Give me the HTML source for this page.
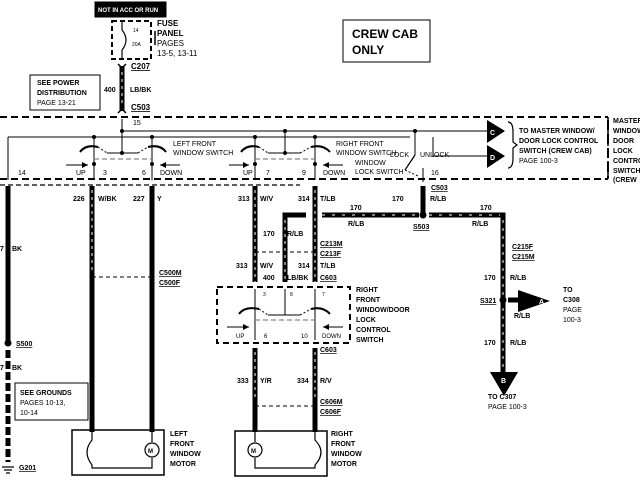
<!DOCTYPE html>
<html><head><style>
html,body{margin:0;padding:0;background:#fff;width:640px;height:480px;overflow:hidden}
svg{display:block}
text{font-family:"Liberation Sans",sans-serif;font-weight:bold;fill:#000}
.s{font-size:7px}
.m{font-size:8px}
.n{font-weight:normal}
.u{text-decoration:underline}
</style></head><body>
<svg width="640" height="480" viewBox="0 0 640 480" xmlns="http://www.w3.org/2000/svg">
<g fill="none" stroke="#000">
<!-- top label -->
<rect x="95" y="2" width="71" height="15" fill="#000"/>
<!-- fuse box -->
<rect x="112" y="21" width="39" height="38" stroke-width="2" stroke-dasharray="5,3"/>
<line x1="122" y1="21" x2="122" y2="30" stroke-width="1.2"/>
<path d="M122 30 Q130 40 122 50" stroke-width="1.2"/>
<line x1="122" y1="50" x2="122" y2="59" stroke-width="1.2"/>
<line x1="155" y1="31" x2="155" y2="45" stroke-width="1.5"/>
<!-- wire 400 -->
<line x1="122" y1="66" x2="122" y2="111" stroke-width="5"/>
<line x1="122" y1="72" x2="122" y2="106" stroke="#fff" stroke-width="1" stroke-dasharray="3,4"/>
<path d="M118 64 L122 68 L126 64 M118 113 L122 109 L126 113" stroke-width="1.5"/>
<rect x="30" y="75" width="70" height="35" stroke-width="1"/>
<!-- dashed lines top/bottom -->
<line x1="0" y1="117" x2="608" y2="117" stroke-width="2" stroke-dasharray="7,4"/>
<line x1="0" y1="179" x2="608" y2="179" stroke-width="2" stroke-dasharray="7,4"/>
<line x1="0" y1="185" x2="300" y2="185" stroke-width="1.2" stroke-dasharray="5,3"/>
<line x1="608" y1="117" x2="608" y2="179" stroke-width="1.5" stroke-dasharray="7,4"/>
<!-- internal lines -->
<line x1="122" y1="119" x2="122" y2="153" stroke-width="1"/>
<line x1="122" y1="131" x2="487" y2="131" stroke-width="1"/>
<line x1="8" y1="137" x2="410" y2="137" stroke-width="1"/>
<line x1="8" y1="137" x2="8" y2="180" stroke-width="1"/>
<path d="M433 137 L433 156 L487 156" stroke-width="1"/>
<!-- left switch -->
<line x1="94" y1="137" x2="94" y2="180" stroke-width="1"/>
<line x1="152" y1="137" x2="152" y2="180" stroke-width="1"/>
<line x1="107" y1="153" x2="138" y2="153" stroke-width="1"/>
<path d="M80 152 Q86 144 98 147" stroke-width="2"/>
<path d="M148 147 Q160 144 166 152" stroke-width="2"/>
<path d="M98 147 L107 153 M138 153 L148 147" stroke-width="1" stroke-dasharray="2,2"/>
<line x1="94" y1="159" x2="152" y2="159" stroke="#888" stroke-width="1.2" stroke-dasharray="5,3"/>
<path d="M66 165 L88 165 M160 165 L180 165" stroke-width="1"/>
<!-- right switch -->
<line x1="255" y1="137" x2="255" y2="180" stroke-width="1"/>
<line x1="315" y1="137" x2="315" y2="180" stroke-width="1"/>
<line x1="285" y1="131" x2="285" y2="153" stroke-width="1"/>
<line x1="268" y1="153" x2="300" y2="153" stroke-width="1"/>
<path d="M241 152 Q247 144 259 147" stroke-width="2"/>
<path d="M311 147 Q323 144 330 152" stroke-width="2"/>
<path d="M259 147 L268 153 M300 153 L311 147" stroke-width="1" stroke-dasharray="2,2"/>
<line x1="255" y1="159" x2="315" y2="159" stroke="#888" stroke-width="1.2" stroke-dasharray="5,3"/>
<path d="M229 165 L249 165 M323 165 L343 165" stroke-width="1"/>
<!-- lock switch -->
<line x1="415" y1="131" x2="415" y2="155" stroke-width="1"/>
<line x1="415" y1="155" x2="405" y2="170" stroke-width="1.2"/>
<path d="M405 170 L418 176" stroke-width="1" stroke-dasharray="2,2"/>
<line x1="423" y1="168" x2="423" y2="182" stroke-width="1"/>
<!-- C D brace -->
<path d="M508 122 Q513 122 513 132 L513 142 L517 145 L513 148 L513 158 Q513 168 508 168" stroke-width="1.2"/>
<line x1="608" y1="120" x2="608" y2="178" stroke-width="2" stroke-dasharray="10,4"/>
<!-- crew cab box -->
<rect x="343" y="20" width="87" height="42" stroke-width="1"/>
<!-- ground wire -->
<line x1="8" y1="186" x2="8" y2="343" stroke-width="5"/>
<line x1="8" y1="350" x2="8" y2="462" stroke-width="5" stroke-dasharray="8,3"/>
<path d="M2 467 L14 467 M4 470 L12 470 M6 473 L10 473" stroke-width="1.2"/>
<rect x="15" y="383" width="73" height="37" stroke-width="1"/>
<!-- left motor wires -->
<line x1="92" y1="186" x2="92" y2="432" stroke-width="5"/>
<line x1="92" y1="190" x2="92" y2="272" stroke="#fff" stroke-width="1" stroke-dasharray="3,4"/>
<line x1="152" y1="186" x2="152" y2="432" stroke-width="5"/>
<line x1="92" y1="277" x2="152" y2="277" stroke-width="1" stroke-dasharray="4,3"/>
<rect x="72" y="430" width="92" height="45" stroke-width="1.5"/>
<path d="M92 432 L92 440 Q82 452 92 465 L92 468 L152 468 L152 458 M152 432 L152 442" stroke-width="1.2"/>
<circle cx="152" cy="450" r="7" stroke-width="1.2" fill="#fff"/>
<!-- right front wires -->
<line x1="255" y1="186" x2="255" y2="282" stroke-width="5"/>
<line x1="255" y1="190" x2="255" y2="282" stroke="#fff" stroke-width="1" stroke-dasharray="3,4"/>
<line x1="315" y1="186" x2="315" y2="282" stroke-width="5"/>
<line x1="315" y1="190" x2="315" y2="282" stroke="#fff" stroke-width="1" stroke-dasharray="3,4"/>
<path d="M285 282 L285 215 L306 215" stroke-width="5"/>
<line x1="285" y1="220" x2="285" y2="282" stroke="#fff" stroke-width="1" stroke-dasharray="3,4"/>
<line x1="255" y1="252" x2="315" y2="252" stroke-width="1" stroke-dasharray="4,3"/>
<rect x="217" y="287" width="133" height="56" stroke-width="2" stroke-dasharray="6,4"/>
<line x1="255" y1="289" x2="255" y2="340" stroke-width="1"/>
<line x1="315" y1="289" x2="315" y2="340" stroke-width="1"/>
<line x1="285" y1="289" x2="285" y2="315" stroke-width="1"/>
<line x1="268" y1="315" x2="300" y2="315" stroke-width="1"/>
<path d="M239 314 Q245 306 259 309" stroke-width="2"/>
<path d="M311 309 Q323 306 330 314" stroke-width="2"/>
<path d="M259 309 L268 315 M300 315 L311 309" stroke-width="1" stroke-dasharray="2,2"/>
<line x1="255" y1="320" x2="315" y2="320" stroke="#888" stroke-width="1.2" stroke-dasharray="5,3"/>
<path d="M227 327 L249 327 M323 327 L343 327" stroke-width="1"/>
<line x1="255" y1="348" x2="255" y2="432" stroke-width="5"/>
<line x1="255" y1="352" x2="255" y2="400" stroke="#fff" stroke-width="1" stroke-dasharray="3,4"/>
<line x1="315" y1="348" x2="315" y2="432" stroke-width="5"/>
<line x1="315" y1="352" x2="315" y2="400" stroke="#fff" stroke-width="1" stroke-dasharray="3,4"/>
<line x1="255" y1="406" x2="315" y2="406" stroke-width="1" stroke-dasharray="4,3"/>
<rect x="235" y="431" width="92" height="45" stroke-width="1.5"/>
<path d="M315 432 L315 440 Q327 452 315 465 L315 468 L255 468 L255 458 M255 432 L255 442" stroke-width="1.2"/>
<circle cx="255" cy="450" r="7" stroke-width="1.2" fill="#fff"/>
<!-- 170 R/LB -->
<line x1="423" y1="186" x2="423" y2="215" stroke-width="5"/>
<line x1="322" y1="215" x2="419" y2="215" stroke-width="5"/>
<path d="M429 215 L503 215 L503 372" stroke-width="5"/>
<path d="M322 215 L419 215 M429 215 L500 215" stroke="#fff" stroke-width="1" stroke-dasharray="3,7"/>
<line x1="503" y1="220" x2="503" y2="370" stroke="#fff" stroke-width="1" stroke-dasharray="3,5"/>
<line x1="508" y1="300" x2="520" y2="300" stroke-width="5"/>
</g>
<g fill="#000">
<circle cx="423" cy="215" r="3.5"/>
<circle cx="503" cy="300" r="3.5"/>
<circle cx="8" cy="343" r="3.5"/>
<circle cx="122" cy="131" r="2"/><circle cx="285" cy="131" r="2"/><circle cx="415" cy="131" r="2"/>
<circle cx="94" cy="137" r="2"/><circle cx="152" cy="137" r="2"/><circle cx="255" cy="137" r="2"/><circle cx="315" cy="137" r="2"/>
<circle cx="122" cy="153" r="2"/><circle cx="285" cy="153" r="2"/>
<circle cx="94" cy="164" r="2"/><circle cx="152" cy="164" r="2"/><circle cx="255" cy="164" r="2"/><circle cx="315" cy="164" r="2"/>
<polygon points="487,120 505,131 487,143"/>
<polygon points="487,145 505,156 487,168"/>
<polygon points="518,290 550,301 518,312"/>
<polygon points="490,372 518,372 504,396"/>
<polygon points="88,165 82,162 82,168"/><polygon points="160,165 166,162 166,168"/>
<polygon points="249,165 243,162 243,168"/><polygon points="323,165 329,162 329,168"/>
<polygon points="249,327 243,324 243,330"/><polygon points="323,327 329,324 329,330"/>
</g>
<g>
<text x="98" y="12" class="s" fill="#fff" style="fill:#fff;font-size:6px">NOT IN ACC OR RUN</text>
<text x="133" y="32" class="s n" style="font-size:5px">14</text>
<text x="132" y="46" class="s n" style="font-size:5px">20A</text>
<text x="157" y="26" class="m">FUSE</text>
<text x="157" y="36" class="m">PANEL</text>
<text x="157" y="46" class="m n">PAGES</text>
<text x="157" y="56" class="m n">13-5, 13-11</text>
<text x="131" y="69" class="m u">C207</text>
<text x="104" y="92" class="s">400</text>
<text x="130" y="92" class="s">LB/BK</text>
<text x="131" y="110" class="m u">C503</text>
<text x="37" y="85" class="s">SEE POWER</text>
<text x="37" y="95" class="s">DISTRIBUTION</text>
<text x="37" y="105" class="s n">PAGE 13-21</text>
<text x="133" y="125" class="s n">15</text>
<text x="173" y="146" class="s n">LEFT FRONT</text>
<text x="173" y="155" class="s n">WINDOW SWITCH</text>
<text x="336" y="146" class="s n">RIGHT FRONT</text>
<text x="336" y="155" class="s n">WINDOW SWITCH</text>
<text x="355" y="165" class="s n">WINDOW</text>
<text x="355" y="174" class="s n">LOCK SWITCH</text>
<text x="390" y="157" class="s n">LOCK</text>
<text x="420" y="157" class="s n">UNLOCK</text>
<text x="431" y="175" class="s n">16</text>
<text x="18" y="175" class="s n">14</text>
<text x="76" y="175" class="s n">UP</text>
<text x="103" y="175" class="s n">3</text>
<text x="142" y="175" class="s n">6</text>
<text x="160" y="175" class="s n">DOWN</text>
<text x="243" y="175" class="s n">UP</text>
<text x="266" y="175" class="s n">7</text>
<text x="302" y="175" class="s n">9</text>
<text x="323" y="175" class="s n">DOWN</text>
<text x="490" y="135" style="font-size:7px;fill:#fff">C</text>
<text x="490" y="160" style="font-size:7px;fill:#fff">D</text>
<text x="519" y="133" class="s">TO MASTER WINDOW/</text>
<text x="519" y="143" class="s">DOOR LOCK CONTROL</text>
<text x="519" y="153" class="s">SWITCH (CREW CAB)</text>
<text x="519" y="163" class="s n">PAGE 100-3</text>
<text x="613" y="123" class="s">MASTER</text>
<text x="613" y="133" class="s">WINDOW</text>
<text x="613" y="143" class="s">DOOR</text>
<text x="613" y="153" class="s">LOCK</text>
<text x="613" y="163" class="s">CONTROL</text>
<text x="613" y="173" class="s">SWITCH</text>
<text x="613" y="182" class="s">(CREW</text>
<text x="352" y="38" style="font-size:12px">CREW CAB</text>
<text x="352" y="54" style="font-size:12px">ONLY</text>
<text x="73" y="201" class="s">226</text><text x="98" y="201" class="s">W/BK</text>
<text x="133" y="201" class="s">227</text><text x="157" y="201" class="s">Y</text>
<text x="0" y="251" class="s">7</text><text x="12" y="251" class="s">BK</text>
<text x="0" y="370" class="s">7</text><text x="12" y="370" class="s">BK</text>
<text x="16" y="346" class="s u">S500</text>
<text x="20" y="395" class="s">SEE GROUNDS</text>
<text x="20" y="405" class="s n">PAGES 10-13,</text>
<text x="20" y="415" class="s n">10-14</text>
<text x="19" y="470" class="s u">G201</text>
<text x="159" y="275" class="s u">C500M</text>
<text x="159" y="285" class="s u">C500F</text>
<text x="148" y="453" style="font-size:6px">M</text>
<text x="251" y="453" style="font-size:6px">M</text>
<text x="170" y="436" class="s">LEFT</text>
<text x="170" y="446" class="s">FRONT</text>
<text x="170" y="456" class="s">WINDOW</text>
<text x="170" y="466" class="s">MOTOR</text>
<text x="238" y="201" class="s">313</text><text x="260" y="201" class="s">W/V</text>
<text x="298" y="201" class="s">314</text><text x="320" y="201" class="s">T/LB</text>
<text x="392" y="201" class="s">170</text><text x="430" y="201" class="s">R/LB</text>
<text x="431" y="190" class="s u">C503</text>
<text x="350" y="210" class="s">170</text><text x="480" y="210" class="s">170</text>
<text x="348" y="226" class="s">R/LB</text><text x="472" y="226" class="s">R/LB</text>
<text x="413" y="229" class="s u">S503</text>
<text x="263" y="236" class="s">170</text><text x="287" y="236" class="s">R/LB</text>
<text x="320" y="246" class="s u">C213M</text>
<text x="320" y="256" class="s u">C213F</text>
<text x="236" y="268" class="s">313</text><text x="260" y="268" class="s">W/V</text>
<text x="298" y="268" class="s">314</text><text x="320" y="268" class="s">T/LB</text>
<text x="263" y="280" class="s">400</text><text x="287" y="280" class="s">LB/BK</text>
<text x="320" y="280" class="s u">C603</text>
<text x="263" y="296" class="s n" style="font-size:5px">3</text>
<text x="290" y="296" class="s n" style="font-size:5px">8</text>
<text x="322" y="296" class="s n" style="font-size:5px">7</text>
<text x="236" y="338" class="s n" style="font-size:6px">UP</text>
<text x="264" y="338" class="s n" style="font-size:6px">6</text>
<text x="301" y="338" class="s n" style="font-size:6px">10</text>
<text x="322" y="338" class="s n" style="font-size:6px">DOWN</text>
<text x="356" y="292" class="s">RIGHT</text>
<text x="356" y="302" class="s">FRONT</text>
<text x="356" y="312" class="s">WINDOW/DOOR</text>
<text x="356" y="322" class="s">LOCK</text>
<text x="356" y="332" class="s">CONTROL</text>
<text x="356" y="342" class="s">SWITCH</text>
<text x="320" y="352" class="s u">C603</text>
<text x="237" y="383" class="s">333</text><text x="260" y="383" class="s">Y/R</text>
<text x="297" y="383" class="s">334</text><text x="320" y="383" class="s">R/V</text>
<text x="320" y="404" class="s u">C606M</text>
<text x="320" y="414" class="s u">C606F</text>
<text x="331" y="436" class="s">RIGHT</text>
<text x="331" y="446" class="s">FRONT</text>
<text x="331" y="456" class="s">WINDOW</text>
<text x="331" y="466" class="s">MOTOR</text>
<text x="512" y="249" class="s u">C215F</text>
<text x="512" y="259" class="s u">C215M</text>
<text x="484" y="280" class="s">170</text><text x="510" y="280" class="s">R/LB</text>
<text x="480" y="303" class="s u">S321</text>
<text x="513" y="302" class="s" style="font-size:6px">170</text>
<text x="514" y="318" class="s">R/LB</text>
<text x="539" y="304" style="font-size:7px;fill:#fff">A</text>
<text x="563" y="292" class="s">TO</text>
<text x="563" y="302" class="s">C308</text>
<text x="563" y="312" class="s n">PAGE</text>
<text x="563" y="322" class="s n">100-3</text>
<text x="484" y="345" class="s">170</text><text x="510" y="345" class="s">R/LB</text>
<text x="501" y="383" style="font-size:7px;fill:#fff">B</text>
<text x="488" y="399" class="s">TO C307</text>
<text x="488" y="409" class="s n">PAGE 100-3</text>
</g>
</svg>
</body></html>
